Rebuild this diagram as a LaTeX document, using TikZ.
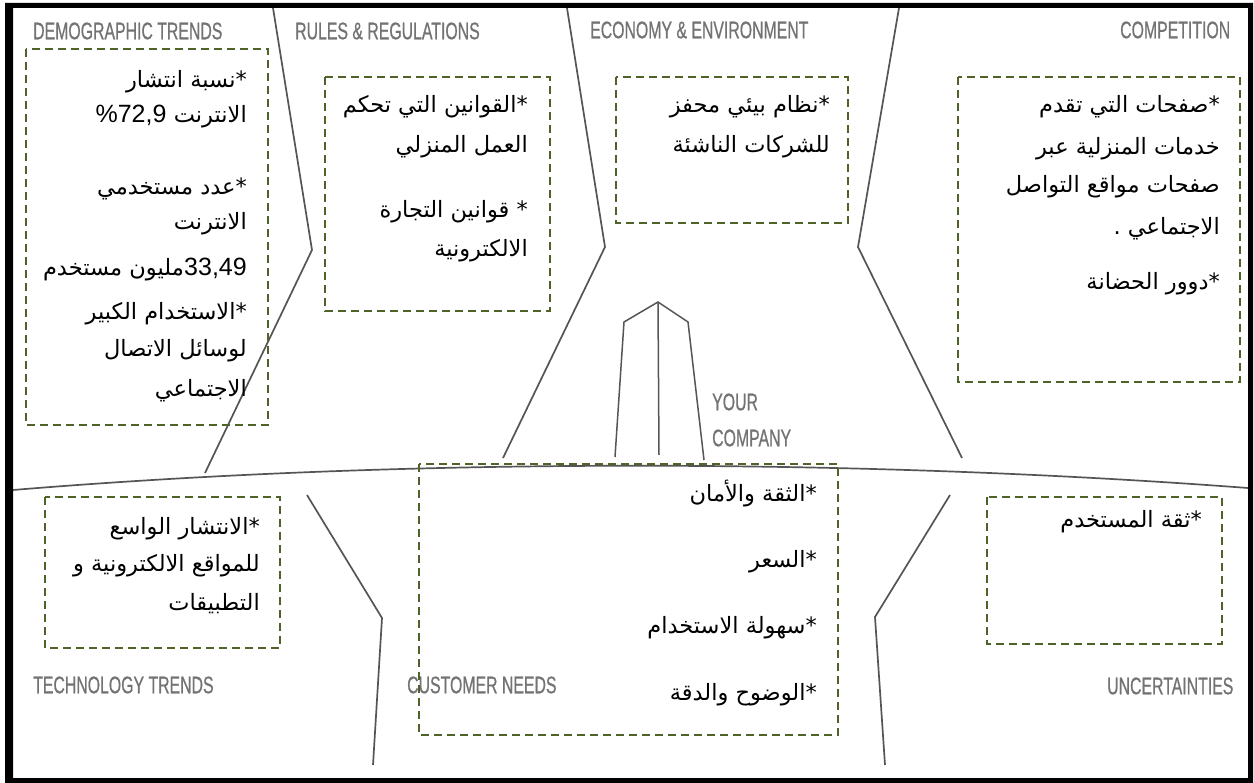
\documentclass[tikz,border=0pt]{standalone}
\usepackage{fontspec}
\setmainfont{Liberation Sans}
\newfontfamily\arabicfont[Script=Arabic]{DejaVu Sans}
\newfontfamily\condfont[FakeStretch=0.66,FakeBold=0.6]{Liberation Sans}
\TeXXeTstate=1
\definecolor{boxgreen}{RGB}{79,98,40}
\definecolor{linegray}{RGB}{85,85,85}
\definecolor{labelgray}{RGB}{115,115,115}
\tikzset{
  divider/.style={draw=linegray, line width=1.7pt, line join=miter},
  dbox/.style={draw=boxgreen, line width=1.8pt, dash pattern=on 8pt off 5pt},
  cat/.style={anchor=west, text=labelgray, inner sep=0pt, font=\condfont\fontsize{24}{26}\selectfont},
  ar/.style={anchor=base east, inner sep=0pt, font=\arabicfont\fontsize{22.5}{26}\selectfont},
  num/.style={anchor=base east, inner sep=0pt, font=\fontsize{25}{28}\selectfont},
}
\begin{document}
\begin{tikzpicture}[x=1pt,y=-1pt]
\useasboundingbox (0,0) rectangle (1254,783);
\fill[white] (0,0) rectangle (1254,783);
% frame
\fill[black, even odd rule] (5,3) rectangle (1253,783) (13,8) rectangle (1248,778);
% horizon
\draw[divider] (13,490) .. controls (400,458) and (850,458) .. (1248,488);
% upper dividers
\draw[divider] (273,8) -- (312,250) -- (205,473);
\draw[divider] (567,8) -- (605,247) -- (503,458);
\draw[divider] (899,8) -- (858,247) -- (962,458);
% lower dividers
\draw[divider] (307,495) -- (382,618) -- (373,765);
\draw[divider] (950,495) -- (875,617) -- (885,765);
% building
\draw[divider, line width=1.5pt] (615,457) -- (624,322) -- (658,302) -- (688,322) -- (704,460);
\draw[divider, line width=1.5pt] (658,302) -- (659,455);
% category labels
\node[cat] (lDemo) at (33,31) {DEMOGRAPHIC TRENDS};
\node[cat] (lRules) at (295,31) {RULES \& REGULATIONS};
\node[cat] (lEcon) at (590,30) {ECONOMY \& ENVIRONMENT};
\node[cat] (lComp) at (1120,30) {COMPETITION};
\node[cat] (lTech) at (33,685) {TECHNOLOGY TRENDS};
\node[cat] (lCust) at (407,685) {CUSTOMER NEEDS};
\node[cat] (lUnc) at (1107,686) {UNCERTAINTIES};
\node[cat] (lYour) at (712,402) {YOUR};
\node[cat] (lCompany) at (712,438) {COMPANY};
% dashed boxes
\draw[dbox] (26,49) rectangle (268,425);
\draw[dbox] (325,77) rectangle (550,311);
\draw[dbox] (616,77) rectangle (848,223);
\draw[dbox] (958,77) rectangle (1240,382);
\draw[dbox] (45,497) rectangle (280,648);
\draw[dbox] (419,464) rectangle (838,735);
\draw[dbox] (987,497) rectangle (1222,644);
% box 1 texts
\node[ar] (d1) at (247,88) {\beginR *نسبة انتشار\endR};
\node[ar] (d2) at (247,123) {\beginR الانترنت\endR};
\node[num] (d2n) at ([xshift=-7pt]d2.base west) {\%72,9};
\node[ar] (d3) at (247,195) {\beginR *عدد مستخدمي\endR};
\node[ar] (d4) at (247,230) {\beginR الانترنت\endR};
\node[num] (d5n) at (247,276) {33,49};
\node[ar] (d5) at (d5n.base west) {\beginR مليون مستخدم\endR};
\node[ar] (d6) at (247,320) {\beginR *الاستخدام الكبير\endR};
\node[ar] (d7) at (247,357) {\beginR لوسائل الاتصال\endR};
\node[ar] (d8) at (247,397) {\beginR الاجتماعي\endR};
% box 2
\node[ar] (r1) at (528,113) {\beginR *القوانين التي تحكم\endR};
\node[ar] (r2) at (528,153) {\beginR العمل المنزلي\endR};
\node[ar] (r3) at (528,218) {\beginR * قوانين التجارة\endR};
\node[ar] (r4) at (528,257) {\beginR الالكترونية\endR};
% box 3
\node[ar] (e1) at (830,113) {\beginR *نظام بيئي محفز\endR};
\node[ar] (e2) at (830,153) {\beginR للشركات الناشئة\endR};
% box 4
\node[ar] (c1) at (1220,113) {\beginR *صفحات التي تقدم\endR};
\node[ar] (c2) at (1220,155) {\beginR خدمات المنزلية عبر\endR};
\node[ar] (c3) at (1220,193) {\beginR صفحات مواقع التواصل\endR};
\node[ar] (c4) at (1220,235) {\beginR الاجتماعي .\endR};
\node[ar] (c5) at (1220,290) {\beginR *دوور الحضانة\endR};
% box 5
\node[ar] (t1) at (260,535) {\beginR *الانتشار الواسع\endR};
\node[ar] (t2) at (260,572) {\beginR للمواقع الالكترونية و\endR};
\node[ar] (t3) at (260,610) {\beginR التطبيقات\endR};
% box 6
\node[ar] (n1) at (817,502) {\beginR *الثقة والأمان\endR};
\node[ar] (n2) at (817,567) {\beginR *السعر\endR};
\node[ar] (n3) at (817,633) {\beginR *سهولة الاستخدام\endR};
\node[ar] (n4) at (817,700) {\beginR *الوضوح والدقة\endR};
% box 7
\node[ar] (u1) at (1202,528) {\beginR *ثقة المستخدم\endR};
\end{tikzpicture}
\end{document}
